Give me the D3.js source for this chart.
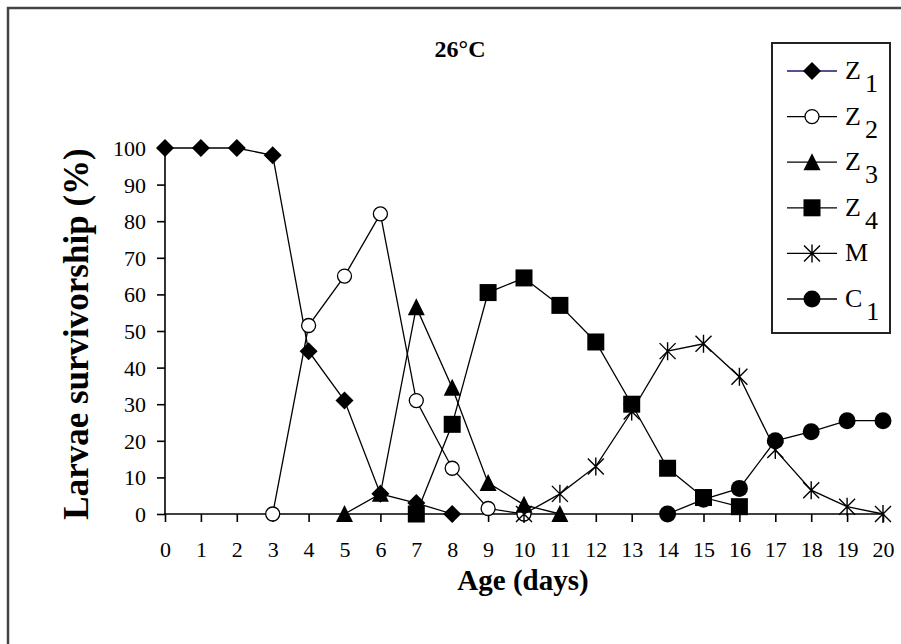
<!DOCTYPE html>
<html>
<head>
<meta charset="utf-8">
<script src="https://cdn.jsdelivr.net/npm/d3@7/dist/d3.min.js"></script>
<style>
  html, body { margin: 0; padding: 0; background: #fff; }
  svg { display: block; }
  text { font-family: "Liberation Serif", "Times New Roman", serif; fill: #000; }
</style>
</head>
<body>
<svg id="chart" width="901" height="644"></svg>
<script>
// Larval stage survivorship (%) by age in days, reared at 26°C
const ageTicks = [0, 1, 2, 3, 4, 5, 6, 7, 8, 9, 10, 11, 12, 13, 14, 15, 16, 17, 18, 19, 20];
const survivalTicks = [0, 10, 20, 30, 40, 50, 60, 70, 80, 90, 100];

const z1Days = [0, 1, 2, 3, 4, 5, 6, 7, 8];
const z1Values = [100, 100, 100, 98, 44.5, 31, 5.5, 3, 0];

const z2Days = [3, 4, 5, 6, 7, 8, 9, 10];
const z2Values = [0, 51.5, 65, 82, 31, 12.5, 1.5, 0];

const z3Days = [5, 6, 7, 8, 9, 10, 11];
const z3Values = [0, 5.5, 56.5, 34.5, 8.5, 2.5, 0];

const z4Days = [7, 8, 9, 10, 11, 12, 13, 14, 15, 16];
const z4Values = [0, 24.5, 60.5, 64.5, 57, 47, 30, 12.5, 4.5, 2];

const mDays = [10, 11, 12, 13, 14, 15, 16, 17, 18, 19, 20];
const mValues = [0, 5.5, 13, 28, 44.5, 46.5, 37.5, 17.5, 6.5, 2, 0];

const c1Days = [14, 15, 16, 17, 18, 19, 20];
const c1Values = [0, 4, 7, 20, 22.5, 25.5, 25.5];

const stageNames = ["Z", "Z", "Z", "Z", "M", "C"];
const stageSubs = ["1", "2", "3", "4", "", "1"];
const stageMarkers = ["diamond", "openCircle", "triangle", "square", "asterisk", "dot"];
const legendLineColors = ["#1a1a6e", "#000", "#000", "#000", "#000", "#000"];

const series = [
  { days: z1Days, values: z1Values },
  { days: z2Days, values: z2Values },
  { days: z3Days, values: z3Values },
  { days: z4Days, values: z4Values },
  { days: mDays, values: mValues },
  { days: c1Days, values: c1Values }
].map((s, i) => ({
  marker: stageMarkers[i],
  points: s.days.map((d, j) => ({ day: d, value: s.values[j] }))
}));

const svg = d3.select("#chart");
const plot = { left: 165, right: 883, top: 148, bottom: 514 };

const x = d3.scaleLinear().domain([0, 20]).range([plot.left, plot.right]);
const y = d3.scaleLinear().domain([0, 100]).range([plot.bottom, plot.top]);

// outer frame (clipped at the right and bottom edges)
svg.append("path")
  .attr("d", "M8,660V8H920")
  .attr("fill", "none")
  .attr("stroke", "#444")
  .attr("stroke-width", 2.5);

// title
svg.append("text")
  .attr("x", 460).attr("y", 57)
  .attr("text-anchor", "middle")
  .attr("font-weight", "bold")
  .attr("font-size", 24)
  .text("26°C");

// axes
const xAxis = d3.axisBottom(x).tickValues(ageTicks).tickFormat(d3.format("d"))
  .tickSize(8).tickPadding(26);
const yAxis = d3.axisLeft(y).tickValues(survivalTicks).tickFormat(d3.format("d"))
  .tickSize(8).tickPadding(11);

const gx = svg.append("g").attr("transform", `translate(0,${plot.bottom})`).call(xAxis);
const gy = svg.append("g").attr("transform", `translate(${plot.left},0)`).call(yAxis);

[gx, gy].forEach(g => {
  g.select(".domain").attr("stroke", "#000").attr("stroke-width", 1.6);
  g.selectAll(".tick line").attr("stroke", "#000").attr("stroke-width", 1.6);
  g.selectAll(".tick text")
    .attr("font-family", "'Liberation Serif', 'Times New Roman', serif")
    .attr("font-size", 22).attr("fill", "#000");
});
gx.select(".domain").attr("d", `M${plot.left},0H${plot.right}`);
gy.select(".domain").attr("d", `M0,${plot.bottom}V${plot.top}`);
gx.selectAll(".tick text").attr("dy", 0).attr("y", 43);
gy.selectAll(".tick text").attr("dy", "0.34em");

// axis titles
svg.append("text")
  .attr("transform", "translate(88,334) rotate(-90)")
  .attr("text-anchor", "middle")
  .attr("font-weight", "bold")
  .attr("font-size", 35)
  .text("Larvae survivorship (%)");

svg.append("text")
  .attr("x", 523).attr("y", 590)
  .attr("text-anchor", "middle")
  .attr("font-weight", "bold")
  .attr("font-size", 29)
  .text("Age (days)");

// marker shapes, centred on (0,0)
function drawMarker(g, kind) {
  if (kind === "diamond") {
    g.append("path").attr("d", "M0,-9L9,0L0,9L-9,0Z").attr("fill", "#000");
  } else if (kind === "openCircle") {
    g.append("circle").attr("r", 7).attr("fill", "#fff").attr("stroke", "#000").attr("stroke-width", 1.3);
  } else if (kind === "triangle") {
    g.append("path").attr("d", "M0,-9L8.5,8L-8.5,8Z").attr("fill", "#000");
  } else if (kind === "square") {
    g.append("rect").attr("x", -8.5).attr("y", -8.5).attr("width", 17).attr("height", 17).attr("fill", "#000");
  } else if (kind === "asterisk") {
    g.append("path").attr("d", "M-8,-8L8,8M-8,8L8,-8M0,-9V9")
      .attr("stroke", "#000").attr("stroke-width", 1.4).attr("fill", "none");
  } else if (kind === "dot") {
    g.append("circle").attr("r", 8.5).attr("fill", "#000");
  }
}

const line = d3.line().x(d => x(d.day)).y(d => y(d.value));

const seriesG = svg.selectAll("g.series").data(series).join("g").attr("class", "series");
seriesG.append("path")
  .attr("d", d => line(d.points))
  .attr("fill", "none")
  .attr("stroke", "#000")
  .attr("stroke-width", 1.3);

seriesG.each(function (s) {
  d3.select(this).selectAll("g.mk").data(s.points).join("g")
    .attr("class", "mk")
    .attr("transform", p => `translate(${x(p.day)},${y(p.value)})`)
    .each(function () { drawMarker(d3.select(this), s.marker); });
});

// legend
const legend = svg.append("g");
legend.append("rect")
  .attr("x", 772).attr("y", 43).attr("width", 118).attr("height", 290)
  .attr("fill", "#fff").attr("stroke", "#222").attr("stroke-width", 2);

stageNames.forEach((name, i) => {
  const cy = 71 + i * 45.6;
  const row = legend.append("g");
  row.append("line")
    .attr("x1", 787).attr("x2", 837).attr("y1", cy).attr("y2", cy)
    .attr("stroke", legendLineColors[i]).attr("stroke-width", 1.3);
  drawMarker(row.append("g").attr("transform", `translate(812,${cy})`), stageMarkers[i]);
  const t = row.append("text").attr("x", 845).attr("y", cy + 8).attr("font-size", 26);
  t.append("tspan").text(name);
  if (stageSubs[i]) {
    t.append("tspan").attr("dx", 4).attr("dy", 13).text(stageSubs[i]);
  }
});
</script>
</body>
</html>
